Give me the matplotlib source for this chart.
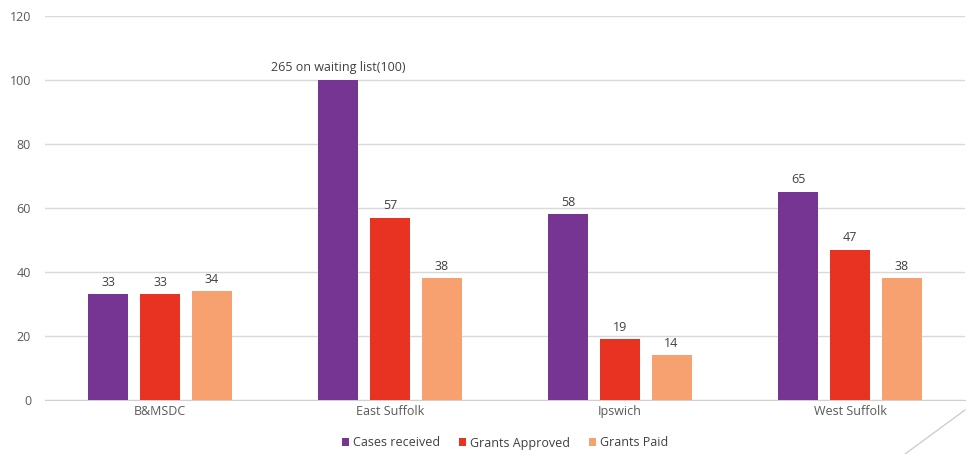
import numpy as np
import matplotlib.pyplot as plt
from matplotlib.lines import Line2D

areas = ["B&MSDC", "East Suffolk", "Ipswich", "West Suffolk"]
cases = [33, 100, 58, 65]
approved = [33, 57, 19, 47]
paid = [34, 38, 14, 38]
case_labels = ["33", "265 on waiting list(100)", "58", "65"]

series = [("Cases received", cases, "#763592"),
          ("Grants Approved", approved, "#E83323"),
          ("Grants Paid", paid, "#F7A070")]

plt.rcParams['font.family'] = ['Open Sans', 'DejaVu Sans']

fig = plt.figure(figsize=(9.71, 4.54), dpi=100)
ax = fig.add_axes([45/971, 54/454, 920/971, 384/454])

x = np.arange(len(areas))
w = 0.174
off = 0.224
for i, (name, vals, col) in enumerate(series):
    bars = ax.bar(x + (i - 1)*off, vals, w, color=col, label=name, zorder=3)
    labels = case_labels if i == 0 else [str(v) for v in vals]
    ax.bar_label(bars, labels=labels, padding=4, fontsize=9, color="#404040")

ax.set_xlim(-0.5, 3.5)
ax.set_ylim(0, 120)
ax.set_yticks(range(0, 121, 20))
ax.set_xticks(x)
ax.set_xticklabels(areas)
ax.tick_params(length=0, labelsize=9, colors="#595959")
ax.tick_params(axis='y', pad=10)
ax.grid(axis='y', color="#d9d9d9", lw=1, zorder=0)
for s in ["top", "right", "left"]:
    ax.spines[s].set_visible(False)
ax.spines["bottom"].set_color("#d0d0d0")

leg = fig.legend(loc="center", bbox_to_anchor=(505/971, 1 - 443/454), ncol=3,
                 frameon=False, fontsize=9, handlelength=0.6, handleheight=0.6,
                 handletextpad=0.3, columnspacing=1.5, labelcolor="#404040")

fig.add_artist(Line2D([905/971, 965/971], [0, 44/454], color="#cfcfcf", lw=1,
                      transform=fig.transFigure))

fig.savefig("out.png", dpi=100)
